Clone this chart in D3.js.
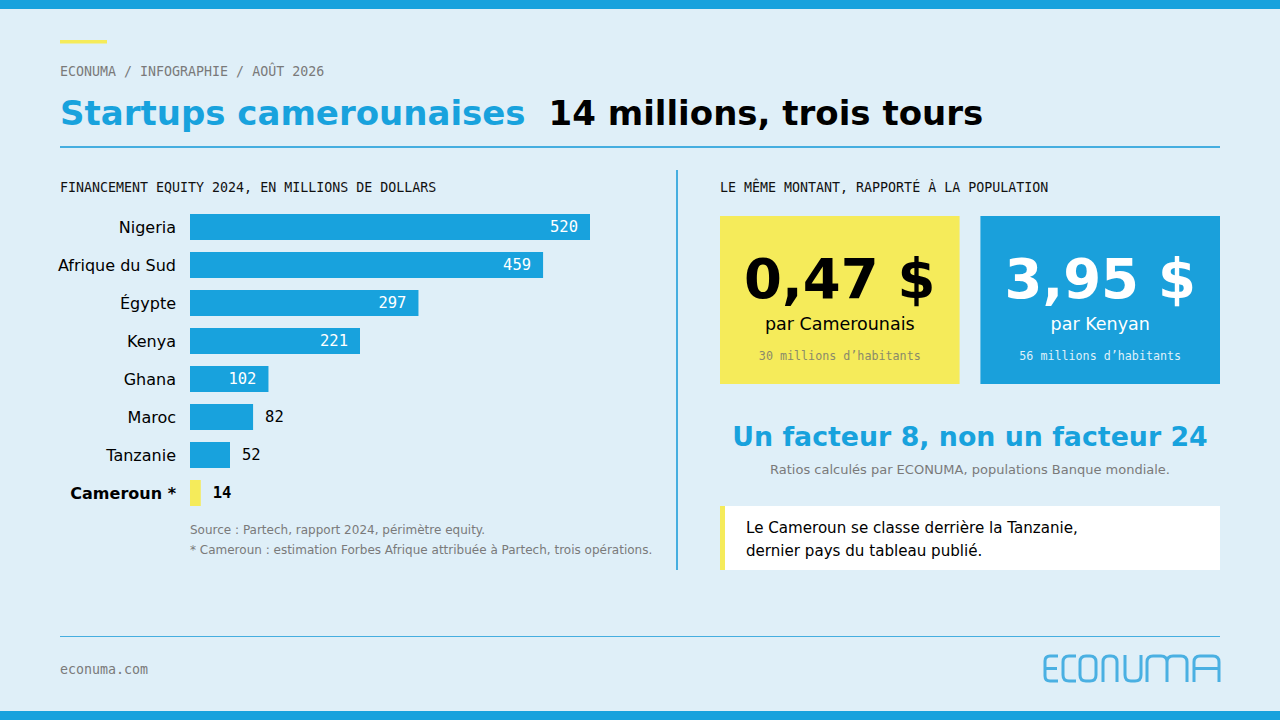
<!DOCTYPE html>
<html>
<head>
<meta charset="utf-8">
<script src="https://cdn.jsdelivr.net/npm/d3@7"></script>
<style>
  html, body { margin: 0; padding: 0; background: #dfeff8; }
  svg { display: block; }
</style>
</head>
<body>
<svg id="chart" width="1280" height="720"></svg>
<script>
// data
const countries = ["Nigeria", "Afrique du Sud", "Égypte", "Kenya", "Ghana", "Maroc", "Tanzanie", "Cameroun *"];
const equity = [520, 459, 297, 221, 102, 82, 52, 14];
const highlight = "Cameroun *";
const perCapita = ["0,47 $", "3,95 $"];
const perWho = ["par Camerounais", "par Kenyan"];
const population = ["30 millions d’habitants", "56 millions d’habitants"];

const BLUE = "#18a2dd";
const YELLOW = "#f5eb5a";
const GREY = "#7a7a7a";
const SANS = "DejaVu Sans, Verdana, sans-serif";
const MONO = "DejaVu Sans Mono, monospace";

const svg = d3.select("#chart");

svg.append("rect").attr("width", 1280).attr("height", 720).attr("fill", "#dfeff8");
svg.append("rect").attr("width", 1280).attr("height", 9).attr("fill", BLUE);
svg.append("rect").attr("y", 711).attr("width", 1280).attr("height", 9).attr("fill", BLUE);

// header
svg.append("rect").attr("x", 60).attr("y", 40).attr("width", 47).attr("height", 3.5).attr("fill", YELLOW);
svg.append("text").attr("x", 60).attr("y", 76)
  .attr("font-family", MONO).attr("font-size", 13.3).attr("fill", GREY)
  .text("ECONUMA / INFOGRAPHIE / AOÛT 2026");
const title = svg.append("text").attr("x", 60).attr("y", 125)
  .attr("font-family", SANS).attr("font-weight", "bold").attr("font-size", 34);
title.append("tspan").attr("fill", BLUE).text("Startups camerounaises");
title.append("tspan").attr("fill", "#000").attr("dx", 23).text("14 millions, trois tours");
svg.append("line").attr("x1", 60).attr("x2", 1220).attr("y1", 147).attr("y2", 147)
  .attr("stroke", "#45aee0").attr("stroke-width", 2);

// left: bar chart
svg.append("text").attr("x", 60).attr("y", 192)
  .attr("font-family", MONO).attr("font-size", 13.3).attr("fill", "#111")
  .text("FINANCEMENT EQUITY 2024, EN MILLIONS DE DOLLARS");

const x = d3.scaleLinear().domain([0, 520]).range([190, 590]);
const y = d3.scaleBand().domain(countries).range([214, 506]).paddingInner(12 / 38).paddingOuter(0);

const rows = svg.append("g").selectAll("g")
  .data(countries.map((c, i) => ({ c, v: equity[i] })))
  .join("g");

rows.append("rect")
  .attr("x", x(0))
  .attr("y", d => y(d.c))
  .attr("width", d => x(d.v) - x(0))
  .attr("height", y.bandwidth())
  .attr("fill", d => d.c === highlight ? YELLOW : BLUE);

rows.append("text")
  .attr("x", 176)
  .attr("y", d => y(d.c) + y.bandwidth() / 2)
  .attr("dy", "0.35em")
  .attr("text-anchor", "end")
  .attr("font-family", SANS).attr("font-size", 16)
  .attr("font-weight", d => d.c === highlight ? "bold" : "normal")
  .attr("fill", "#000")
  .text(d => d.c);

rows.append("text")
  .attr("x", d => d.v > 100 ? x(d.v) - 12 : x(d.v) + 12)
  .attr("y", d => y(d.c) + y.bandwidth() / 2)
  .attr("dy", "0.35em")
  .attr("text-anchor", d => d.v > 100 ? "end" : "start")
  .attr("font-family", MONO).attr("font-size", 15.5)
  .attr("font-weight", d => d.c === highlight ? "bold" : "normal")
  .attr("fill", d => d.v > 100 ? "#fff" : "#000")
  .text(d => d.v);

svg.append("text").attr("x", 190).attr("y", 534)
  .attr("font-family", SANS).attr("font-size", 12).attr("fill", GREY)
  .text("Source : Partech, rapport 2024, périmètre equity.");
svg.append("text").attr("x", 190).attr("y", 554)
  .attr("font-family", SANS).attr("font-size", 12).attr("fill", GREY)
  .text("* Cameroun : estimation Forbes Afrique attribuée à Partech, trois opérations.");

svg.append("line").attr("x1", 677).attr("x2", 677).attr("y1", 170).attr("y2", 570)
  .attr("stroke", "#45aee0").attr("stroke-width", 2);

// right: per capita
svg.append("text").attr("x", 720).attr("y", 192)
  .attr("font-family", MONO).attr("font-size", 13.3).attr("fill", "#111")
  .text("LE MÊME MONTANT, RAPPORTÉ À LA POPULATION");

const boxX = d3.scaleBand().domain([0, 1]).range([720, 1220]).paddingInner(0.08);
const boxes = svg.append("g").selectAll("g").data([0, 1]).join("g")
  .attr("transform", i => `translate(${boxX(i)},216)`);
boxes.append("rect").attr("width", boxX.bandwidth()).attr("height", 168)
  .attr("fill", i => i === 0 ? YELLOW : "#1aa0db");
boxes.append("text").attr("x", boxX.bandwidth() / 2).attr("y", 82)
  .attr("text-anchor", "middle").attr("font-family", SANS).attr("font-weight", "bold")
  .attr("font-size", 54.5).attr("fill", i => i === 0 ? "#000" : "#fff")
  .text(i => perCapita[i]);
boxes.append("text").attr("x", boxX.bandwidth() / 2).attr("y", 114)
  .attr("text-anchor", "middle").attr("font-family", SANS)
  .attr("font-size", 17.5).attr("fill", i => i === 0 ? "#000" : "#fff")
  .text(i => perWho[i]);
boxes.append("text").attr("x", boxX.bandwidth() / 2).attr("y", 144)
  .attr("text-anchor", "middle").attr("font-family", MONO)
  .attr("font-size", 11.7).attr("fill", i => i === 0 ? "#8a8a6a" : "#dff0fa")
  .text(i => population[i]);

svg.append("text").attr("x", 970).attr("y", 446).attr("text-anchor", "middle")
  .attr("font-family", SANS).attr("font-weight", "bold").attr("font-size", 26.8).attr("fill", BLUE)
  .text("Un facteur 8, non un facteur 24");
svg.append("text").attr("x", 970).attr("y", 474).attr("text-anchor", "middle")
  .attr("font-family", SANS).attr("font-size", 13).attr("fill", GREY)
  .text("Ratios calculés par ECONUMA, populations Banque mondiale.");

svg.append("rect").attr("x", 720).attr("y", 506).attr("width", 500).attr("height", 64).attr("fill", "#fff");
svg.append("rect").attr("x", 720).attr("y", 506).attr("width", 5).attr("height", 64).attr("fill", YELLOW);
const quote = svg.append("text").attr("font-family", SANS).attr("font-size", 15.1).attr("fill", "#000");
quote.append("tspan").attr("x", 746).attr("y", 533).text("Le Cameroun se classe derrière la Tanzanie,");
quote.append("tspan").attr("x", 746).attr("y", 556).text("dernier pays du tableau publié.");

// footer
svg.append("line").attr("x1", 60).attr("x2", 1220).attr("y1", 636.5).attr("y2", 636.5)
  .attr("stroke", "#45aee0").attr("stroke-width", 1);
svg.append("text").attr("x", 60).attr("y", 674)
  .attr("font-family", MONO).attr("font-size", 13.3).attr("fill", GREY)
  .text("econuma.com");

// logo drawn as strokes
const t = 656, b = 681, m = 668.5, r = 6;
const logo = [
  `M1058,${t} H1050 Q1045,${t} 1045,${t + 5} V${b - 5} Q1045,${b} 1050,${b} H1058 M1045,${m} H1057`,
  `M1076,${t} H1069 Q1063,${t} 1063,${t + r} V${b - r} Q1063,${b} 1069,${b} H1076`,
  `M1086,${t} H1090 Q1096,${t} 1096,${t + r} V${b - r} Q1096,${b} 1090,${b} H1086 Q1080,${b} 1080,${b - r} V${t + r} Q1080,${t} 1086,${t} Z`,
  `M1103,${b + 1} V${t + r} Q1103,${t} 1109,${t} H1111 Q1117,${t} 1117,${t + r} V${b + 1}`,
  `M1125,${t - 1} V${b - r} Q1125,${b} 1131,${b} H1135 Q1141,${b} 1141,${b - r} V${t - 1}`,
  `M1147,${b + 1} V${t + r} Q1147,${t} 1153,${t} H1161 Q1167,${t} 1167,${t + r} V${b + 1} M1167,${t + r} Q1167,${t} 1173,${t} H1181 Q1187,${t} 1187,${t + r} V${b + 1}`,
  `M1194,${b + 1} V${t + r} Q1194,${t} 1200,${t} H1213 Q1219,${t} 1219,${t + r} V${b + 1} M1194,${m} H1219`
];
svg.append("g").selectAll("path").data(logo).join("path")
  .attr("d", d => d)
  .attr("fill", "none")
  .attr("stroke", "#4ab0e2")
  .attr("stroke-width", 3);
</script>
</body>
</html>
